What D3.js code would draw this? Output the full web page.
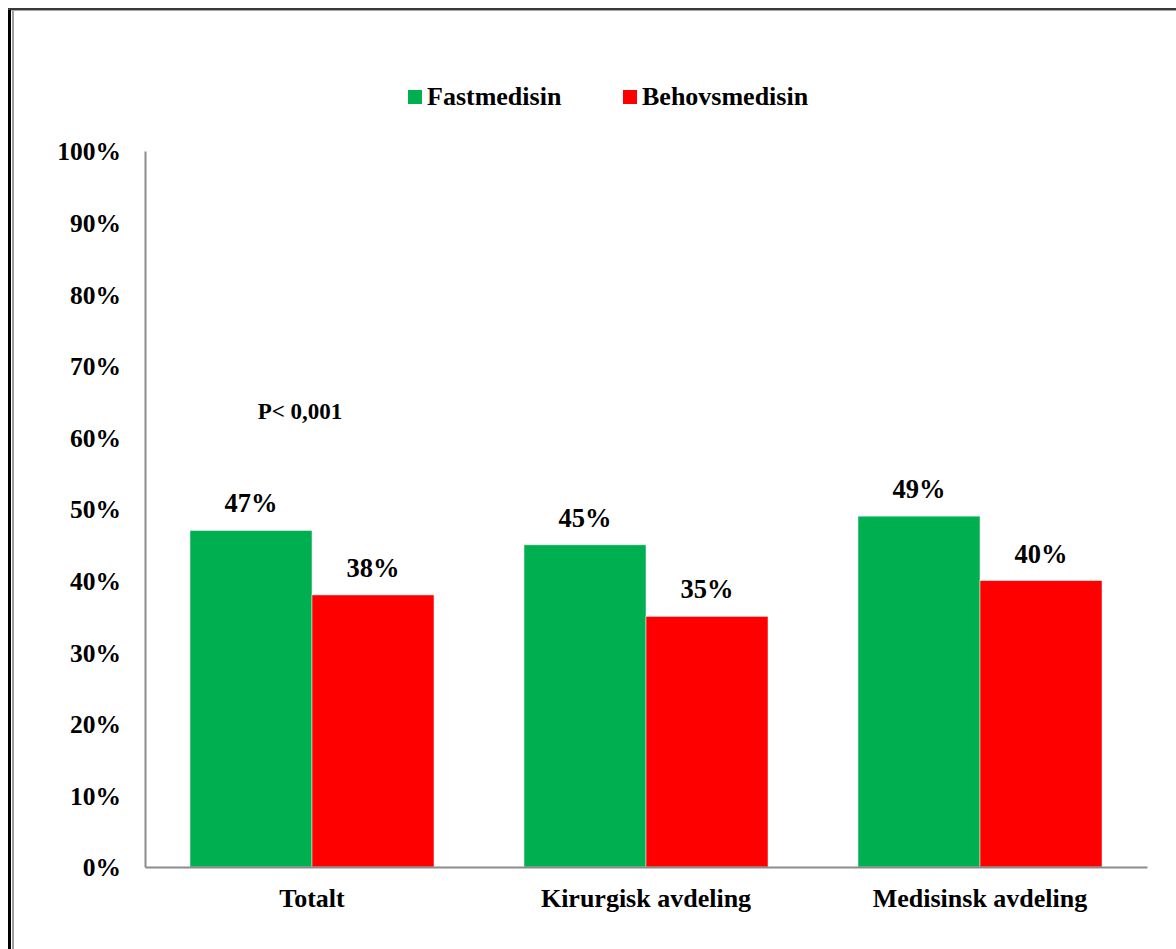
<!DOCTYPE html>
<html>
<head>
<meta charset="utf-8">
<script src="https://cdn.jsdelivr.net/npm/d3@7"></script>
<style>
  html, body { margin: 0; padding: 0; background: #fff; }
  svg { display: block; }
  text { font-family: "Liberation Serif", "Times New Roman", serif; font-weight: bold; fill: #000; }
</style>
</head>
<body>
<svg id="chart" width="1176" height="949"></svg>
<script>
// Share of patients per department, by medication type
const categories = ["Totalt", "Kirurgisk avdeling", "Medisinsk avdeling"];
const seriesNames = ["Fastmedisin", "Behovsmedisin"];
const fastmedisin = [47, 45, 49];
const behovsmedisin = [38, 35, 40];
const seriesColors = ["#00B050", "#FF0000"];
const yTicks = [0, 10, 20, 30, 40, 50, 60, 70, 80, 90, 100];
const annotation = "P< 0,001";

const svg = d3.select("#chart");
const W = 1176, H = 949;

// Frame lines along the left and top edges
svg.append("line").attr("x1", 9.5).attr("x2", 9.5).attr("y1", 8).attr("y2", H)
  .attr("stroke", "#000").attr("stroke-width", 3);
svg.append("line").attr("x1", 13).attr("x2", 13).attr("y1", 10).attr("y2", H)
  .attr("stroke", "#a0a0a0").attr("stroke-width", 2);
svg.append("line").attr("x1", 8).attr("x2", W).attr("y1", 9).attr("y2", 9)
  .attr("stroke", "#3a3a3a").attr("stroke-width", 2);
svg.append("line").attr("x1", 11).attr("x2", W).attr("y1", 10.5).attr("y2", 10.5)
  .attr("stroke", "#a8a8a8").attr("stroke-width", 1.2);

const plot = { left: 145, right: 1147, top: 151, bottom: 867 };

const x0 = d3.scaleBand().domain(categories).range([plot.left, plot.right]).paddingInner(0).paddingOuter(0);
const x1 = d3.scaleBand().domain(seriesNames).range([45, x0.bandwidth() - 45]);
const y = d3.scaleLinear().domain([0, 100]).range([plot.bottom, plot.top]);

const rows = categories.map((c, i) => ({ cat: c, vals: [fastmedisin[i], behovsmedisin[i]] }));

// Bars
const groups = svg.append("g").selectAll("g").data(rows).join("g")
  .attr("transform", d => `translate(${x0(d.cat)},0)`);

groups.selectAll("rect").data(d => d.vals.map((v, j) => ({ v, s: seriesNames[j], j })))
  .join("rect")
  .attr("x", d => x1(d.s))
  .attr("width", x1.bandwidth())
  .attr("y", d => y(d.v))
  .attr("height", d => y(0) - y(d.v))
  .attr("fill", d => seriesColors[d.j])
  .attr("stroke", "#ffffff")
  .attr("stroke-opacity", 0.6)
  .attr("stroke-width", 0.8);

// Value labels
groups.selectAll("text.val").data(d => d.vals.map((v, j) => ({ v, s: seriesNames[j] })))
  .join("text")
  .attr("class", "val")
  .attr("x", d => x1(d.s) + x1.bandwidth() / 2)
  .attr("y", d => y(d.v) - 18)
  .attr("text-anchor", "middle")
  .attr("font-size", 26.5)
  .text(d => d.v + "%");

// Y axis
const yAxis = d3.axisLeft(y).tickValues(yTicks).tickFormat(d => d + "%").tickSize(0).tickPadding(24);
const gy = svg.append("g").attr("transform", `translate(${plot.left},0)`).call(yAxis);
gy.select(".domain").attr("stroke", "#8c8c8c").attr("stroke-width", 2);
gy.selectAll("text").attr("font-size", 25.5).attr("font-family", "Liberation Serif, serif")
  .attr("font-weight", "bold").attr("fill", "#000").attr("dy", "0.35em");

// X axis
const xAxis = d3.axisBottom(x0).tickSize(0).tickPadding(22);
const gx = svg.append("g").attr("transform", `translate(0,${plot.bottom})`).call(xAxis);
gx.select(".domain").attr("stroke", "#8c8c8c").attr("stroke-width", 2);
gx.selectAll("text").attr("font-size", 26).attr("font-family", "Liberation Serif, serif")
  .attr("font-weight", "bold").attr("fill", "#000");

// Significance note
svg.append("text").attr("x", 300).attr("y", 419).attr("text-anchor", "middle")
  .attr("font-size", 23).text(annotation);

// Legend
const legendItems = [
  { name: seriesNames[0], color: seriesColors[0], x: 408 },
  { name: seriesNames[1], color: seriesColors[1], x: 623 }
];
const lg = svg.append("g").selectAll("g").data(legendItems).join("g")
  .attr("transform", d => `translate(${d.x},90)`);
lg.append("rect").attr("width", 14).attr("height", 14).attr("fill", d => d.color);
lg.append("text").attr("x", 19).attr("y", 15).attr("font-size", 26).text(d => d.name);
</script>
</body>
</html>
